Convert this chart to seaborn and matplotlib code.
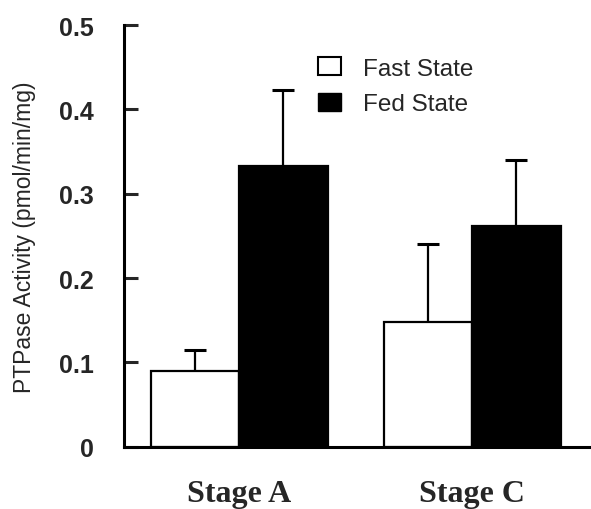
import numpy as np
import pandas as pd
import matplotlib
matplotlib.use('Agg')
import matplotlib.pyplot as plt
import seaborn as sns
from matplotlib.patches import Patch

stages = ['Stage A', 'Stage C']
states = ['Fast State', 'Fed State']
fast_vals = [0.090, 0.148]
fed_vals = [0.333, 0.262]
fast_err = [0.025, 0.092]
fed_err = [0.090, 0.078]
y_ticks = [0, 0.1, 0.2, 0.3, 0.4, 0.5]
y_tick_labels = ['0', '0.1', '0.2', '0.3', '0.4', '0.5']

df = pd.DataFrame({
    'stage': stages * 2,
    'state': [states[0]] * 2 + [states[1]] * 2,
    'value': fast_vals + fed_vals,
})
errs = {states[0]: fast_err, states[1]: fed_err}

sns.set_style('white')
plt.rcParams['font.family'] = ['Liberation Sans', 'DejaVu Sans']

fig = plt.figure(figsize=(5.91, 5.10), dpi=100)
ax = fig.add_axes([0.21, 0.122, 0.79, 0.827])

sns.barplot(data=df, x='stage', y='value', hue='state', hue_order=states,
            palette=['white', 'black'], edgecolor='black', linewidth=1.6,
            width=0.76, errorbar=None, legend=False, ax=ax)

# upper-only error bars (hide the lower cap)
for cont, st in zip(ax.containers, states):
    xs = [p.get_x() + p.get_width() / 2 for p in cont.patches]
    ys = [p.get_height() for p in cont.patches]
    eb = ax.errorbar(xs, ys, yerr=[np.zeros(len(ys)), errs[st]], fmt='none',
                     ecolor='black', elinewidth=1.6, capsize=8, capthick=2.2, zorder=1)
    eb[1][0].set_visible(False)

ax.set_xlim(-0.494, 1.51)
ax.set_ylim(0, 0.5)
ax.set_yticks(y_ticks)
ax.set_yticklabels(y_tick_labels, fontsize=18, fontweight='bold')
ax.set_ylabel('PTPase Activity (pmol/min/mg)', fontsize=16.5, labelpad=16)
ax.set_xlabel('')
ax.set_xticks([0, 1])
ax.set_xticklabels(stages, fontsize=23, fontweight='bold', family='Liberation Serif')
ax.tick_params(axis='x', length=0, pad=23)
ax.tick_params(axis='y', direction='in', length=10, width=2.2, pad=22, left=True)

for side in ['top', 'right']:
    ax.spines[side].set_visible(False)
for side in ['left', 'bottom']:
    ax.spines[side].set_linewidth(2.2)
    ax.spines[side].set_color('black')

handles = [Patch(facecolor='white', edgecolor='black', linewidth=1.5),
           Patch(facecolor='black', edgecolor='black')]
ax.legend(handles, states, frameon=False, fontsize=17.5, loc='upper left',
          bbox_to_anchor=(0.368, 0.975), handlelength=0.95, handleheight=0.74,
          handletextpad=0.9, labelspacing=0.55)

fig.savefig('out.png', dpi=100)
